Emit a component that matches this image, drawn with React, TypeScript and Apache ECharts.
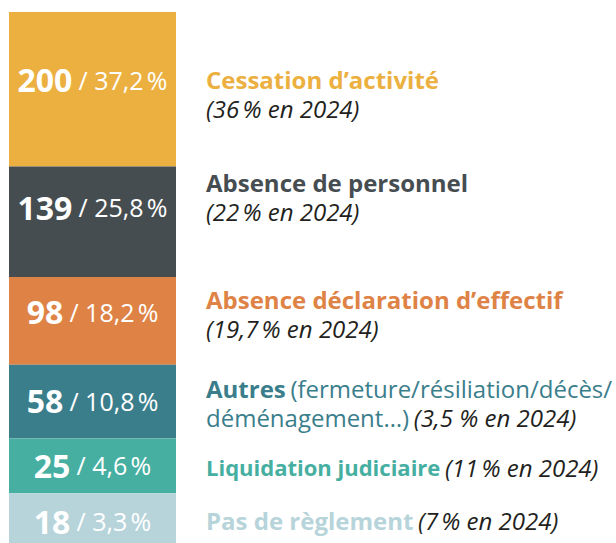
import React, { useEffect, useRef } from "react";
import * as echarts from "echarts";

const categories = [
  "Cessation d’activité",
  "Absence de personnel",
  "Absence déclaration d’effectif",
  "Autres",
  "Liquidation judiciaire",
  "Pas de règlement",
];
const counts = [200, 139, 98, 58, 25, 18];
const shares = ["37,2", "25,8", "18,2", "10,8", "4,6", "3,3"];
const shares2024 = ["36", "22", "19,7", "3,5", "11", "7"];
// The reference draws its blocks at these relative heights (not proportional to counts)
const blockWeights = [155, 111, 88, 74, 55, 50];

const colors = ["#EBB03F", "#464D51", "#DE8345", "#3A7E8C", "#46AFA1", "#B6D4DA"];
const labelOffsets = [-9.5, -14.5, -9, -1, -0.5, 3];
const NNBSP = "\u202f";

export default function App() {
  const ref = useRef<HTMLDivElement>(null);
  useEffect(() => {
    if (!ref.current) return;
    const chart = echarts.init(ref.current, null, { renderer: "svg" });
    const total = blockWeights.reduce((a, b) => a + b, 0);
    const rich = {
      a: { fontFamily: "Open Sans", fontWeight: "bold", fontSize: 32, color: "#fff", lineHeight: 34 },
      s: { fontFamily: "Open Sans", fontSize: 24, color: "#fff", lineHeight: 34 },
      b: { fontFamily: "Open Sans", fontSize: 25, color: "#fff", lineHeight: 34 },
    };
    const series = categories.map((name, i) => ({
      type: "bar",
      name,
      stack: "s",
      data: [blockWeights[i]],
      barWidth: "100%",
      itemStyle: { color: colors[i] },
      label: {
        show: true,
        position: "inside",
        offset: [0, labelOffsets[i]],
        formatter: `{a|${counts[i]}}{s| }{b|/ ${shares[i]}${NNBSP}%}`,
        rich,
      },
    }));
    const dark = "#231F20";
    const LH = 29;
    const titleFont = { fontFamily: "Open Sans", fontWeight: "bold", fontSize: 24, lineHeight: LH };
    const itFont = { fontFamily: "Open Sans", fontStyle: "italic", fontSize: 24, fill: dark, lineHeight: LH };
    const regFont = { fontFamily: "Open Sans", fontSize: 24, lineHeight: LH };
    const sp = { fontFamily: "Open Sans", fontSize: 18, lineHeight: LH };
    const X = 206;
    const txt = (y: number, text: string, rich: any) => ({
      type: "text",
      x: X,
      y,
      style: { text, rich, verticalAlign: "middle", align: "left" },
    });
    const it = (i: number, sep: string) => `{i|(${shares2024[i]}${sep}% en 2024)}`;
    const graphic = [
      txt(93.5, `{t|${categories[0]}}\n${it(0, NNBSP)}`, { t: { ...titleFont, fill: colors[0] }, i: itFont }),
      txt(196.5, `{t|${categories[1]}}\n${it(1, NNBSP)}`, { t: { ...titleFont, fill: colors[1] }, i: itFont }),
      txt(314, `{t|${categories[2]}}\n${it(2, NNBSP)}`, { t: { ...titleFont, fill: colors[2] }, i: itFont }),
      txt(402.5, `{t|${categories[3]}}{s| }{r|(fermeture/résiliation/décès/}\n{r|déménagement…)}{s| }${it(3, " ")}`, {
        t: { ...titleFont, fill: colors[3] },
        s: sp,
        r: { ...regFont, fill: colors[3] },
        i: itFont,
      }),
      txt(467, `{t|${categories[4]}}{s| }${it(4, NNBSP)}`, {
        t: { ...titleFont, fontSize: 22, fill: colors[4] },
        s: sp,
        i: itFont,
      }),
      txt(520, `{t|${categories[5]}}{s| }${it(5, NNBSP)}`, {
        t: { ...titleFont, fill: colors[5] },
        s: sp,
        i: itFont,
      }),
    ];
    chart.setOption({
      animation: false,
      backgroundColor: "#fff",
      grid: { left: 9, top: 12, width: 167, height: total },
      xAxis: { type: "category", data: [""], show: false },
      yAxis: { type: "value", inverse: true, min: 0, max: total, show: false },
      series,
      graphic,
    });
    return () => chart.dispose();
  }, []);
  return (
    <div
      ref={ref}
      style={{ position: "absolute", left: 0, top: 0, width: 616, height: 543 }}
    />
  );
}
